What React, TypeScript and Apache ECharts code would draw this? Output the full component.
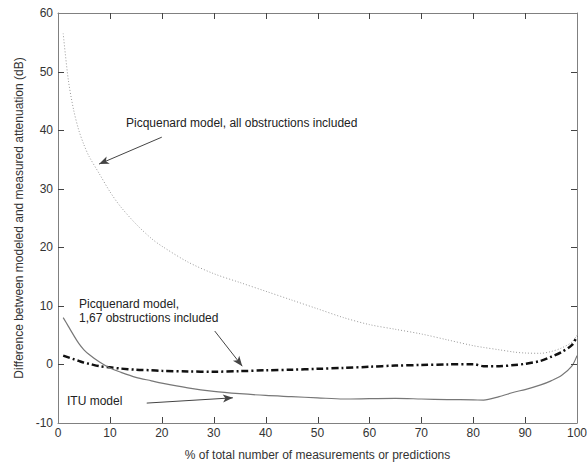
import React, { useEffect, useRef } from "react";
import * as echarts from "echarts";

const xPercent = [1, 2, 3, 4, 5, 6, 8, 10, 12, 15, 18, 20, 25, 30, 35, 40, 45, 50, 55, 60, 65, 70, 75, 80, 82, 85, 88, 90, 93, 95, 97, 99, 100];
const picqAll = [56.5, 48.5, 43.5, 40, 37.5, 35.5, 32.5, 29.5, 27, 24, 21.5, 20.2, 17.5, 15.5, 14, 12.5, 11, 9.5, 8, 6.8, 6, 5.2, 4.2, 3.2, 2.9, 2.5, 2.1, 1.95, 1.9, 2.2, 2.8, 3.8, 5];
const picq167 = [1.5, 1.2, 0.9, 0.6, 0.3, 0.1, -0.3, -0.5, -0.7, -0.9, -1.0, -1.1, -1.2, -1.25, -1.15, -1.0, -0.9, -0.75, -0.6, -0.4, -0.2, -0.1, 0, 0.05, -0.3, -0.3, -0.1, 0.1, 0.6, 1.3, 2.1, 3.3, 4.8];
const itu = [8, 6.5, 5, 3.6, 2.5, 1.7, 0.4, -0.6, -1.3, -2.2, -2.8, -3.2, -4.0, -4.6, -5.0, -5.3, -5.5, -5.7, -5.9, -5.85, -5.8, -5.9, -6.0, -6.05, -6.1, -5.5, -4.7, -4.3, -3.5, -2.8, -1.9, -0.3, 1.5];

const xTicks = [10, 20, 30, 40, 50, 60, 70, 80, 90];
const yTicks = [0, 10, 20, 30, 40, 50];
const X_MIN = 0, X_MAX = 100, Y_MIN = -10, Y_MAX = 60;

const seriesNames = ["Picquenard model, all obstructions included", "Picquenard model, 1,67 obstructions included", "ITU model"];
const xTitle = "% of total number of measurements or predictions";
const yTitle = "Difference between modeled and measured attenuation (dB)";

const FONT = "Liberation Sans, Arial, sans-serif";
const TICK_LEN = 6;
const TICK_COLOR = "#444";

export default function App() {
  const ref = useRef<HTMLDivElement>(null);
  useEffect(() => {
    const chart = echarts.init(ref.current!, null, { renderer: "svg" });
    const pair = (ys: number[]) => xPercent.map((x, i) => [x, ys[i]]);
    const arrow = (from: number[], to: number[]) => [
      { coord: from, symbol: "none" },
      { coord: to, symbol: "arrow", symbolSize: [6, 10] },
    ];
    const line = () => ({ show: true, onZero: false, lineStyle: { color: "#808080", width: 1 } });
    const texts: any[] = [
      { type: "text", left: 126, top: 117, style: { text: seriesNames[0], fontSize: 12, fontFamily: FONT, fill: "#222" } },
      { type: "text", left: 79, top: 297, style: { text: "Picquenard model,\n1,67 obstructions included", fontSize: 12, lineHeight: 14, fontFamily: FONT, fill: "#222" } },
      { type: "text", left: 67, top: 395, style: { text: "ITU model", fontSize: 12, fontFamily: FONT, fill: "#222" } },
    ];
    chart.setOption({
      animation: false,
      backgroundColor: "#fff",
      textStyle: { fontFamily: FONT },
      grid: { left: 58, right: 10, top: 13, bottom: 39, outerBoundsMode: "none", containLabel: false },
      xAxis: [
        {
          type: "value", min: X_MIN, max: X_MAX, interval: 10, position: "bottom",
          axisLine: line(), axisTick: { show: false }, splitLine: { show: false },
          axisLabel: { color: "#333", fontSize: 12, fontFamily: FONT, margin: 4 },
          name: xTitle, nameLocation: "middle", nameGap: 26,
          nameTextStyle: { color: "#333", fontSize: 12, fontFamily: FONT },
        },
        {
          type: "value", min: X_MIN, max: X_MAX, interval: 10, position: "top",
          axisLine: line(), axisTick: { show: false }, splitLine: { show: false },
          axisLabel: { show: false },
        },
      ],
      yAxis: [
        {
          type: "value", min: Y_MIN, max: Y_MAX, interval: 10, position: "left",
          axisLine: line(), axisTick: { show: false }, splitLine: { show: false },
          axisLabel: { color: "#333", fontSize: 12, fontFamily: FONT, margin: 5 },
          name: yTitle, nameLocation: "middle", nameGap: 32,
          nameTextStyle: { color: "#333", fontSize: 12, fontFamily: FONT },
        },
        {
          type: "value", min: Y_MIN, max: Y_MAX, interval: 10, position: "right",
          axisLine: line(), axisTick: { show: false }, splitLine: { show: false },
          axisLabel: { show: false },
        },
      ],
      series: [
        {
          name: seriesNames[0], type: "line", smooth: 0.3, showSymbol: false,
          data: pair(picqAll),
          lineStyle: { color: "#999", width: 1, type: [1, 2] },
          markLine: {
            silent: true, label: { show: false },
            lineStyle: { color: "#444", width: 1, type: "solid" },
            data: [arrow([20.0, 38.8], [7.9, 34.2])],
          },
        },
        {
          name: seriesNames[1], type: "line", smooth: 0.3, showSymbol: false,
          data: pair(picq167),
          lineStyle: { color: "#111", width: 2.5, type: [7, 3, 2, 3] },
          markLine: {
            silent: true, label: { show: false },
            lineStyle: { color: "#444", width: 1, type: "solid" },
            data: [arrow([30.2, 5.7], [35.5, -0.3])],
          },
        },
        {
          name: seriesNames[2], type: "line", smooth: 0.3, showSymbol: false,
          data: pair(itu),
          lineStyle: { color: "#777", width: 1.2 },
          markLine: {
            silent: true, label: { show: false },
            lineStyle: { color: "#444", width: 1, type: "solid" },
            data: [arrow([17.1, -6.6], [33.7, -5.7])],
          },
        },
      ],
      graphic: texts,
    });

    // Inward tick marks on all four sides, positioned through the axes' own scales.
    try {
      const crisp = (v: number) => Math.round(v) + 0.5;
      const px = (v: number) => chart.convertToPixel({ xAxisIndex: 0 } as any, v) as unknown as number;
      const py = (v: number) => chart.convertToPixel({ yAxisIndex: 0 } as any, v) as unknown as number;
      const left = px(X_MIN), right = px(X_MAX), bottom = py(Y_MIN), top = py(Y_MAX);
      const style = { stroke: TICK_COLOR, lineWidth: 1, fill: "none" };
      const ticks: any[] = [];
      xTicks.forEach((v) => {
        const x = crisp(px(v));
        ticks.push({ type: "polyline", silent: true, z: 50, shape: { points: [[x, bottom], [x, bottom - TICK_LEN]] }, style });
        ticks.push({ type: "polyline", silent: true, z: 50, shape: { points: [[x, top], [x, top + TICK_LEN]] }, style });
      });
      yTicks.forEach((v) => {
        const y = crisp(py(v));
        ticks.push({ type: "polyline", silent: true, z: 50, shape: { points: [[left, y], [left + TICK_LEN, y]] }, style });
        ticks.push({ type: "polyline", silent: true, z: 50, shape: { points: [[right, y], [right - TICK_LEN, y]] }, style });
      });
      chart.setOption({ graphic: [...texts, ...ticks] });
    } catch (e) {
      // keep the chart without extra ticks if conversion fails
    }
    return () => chart.dispose();
  }, []);
  return <div ref={ref} style={{ width: 587, height: 462, position: "absolute", left: 0, top: 0 }} />;
}
